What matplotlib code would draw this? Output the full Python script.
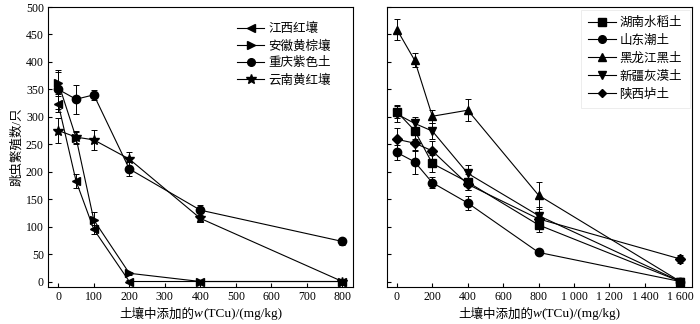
import matplotlib
matplotlib.use('Agg')
import matplotlib.pyplot as plt
from matplotlib.lines import Line2D
from matplotlib.offsetbox import TextArea, HPacker, AnchoredOffsetbox

plt.rcParams['font.family'] = ['Liberation Serif', 'Noto Sans CJK SC']
plt.rcParams['axes.unicode_minus'] = False

# left panel data
x_left = [0, 50, 100, 200, 400, 800]
jiangxi = [323, 183, 95, 0, 0, 0]
jiangxi_err = [15, 13, 8, 2, 0, 0]
anhui = [362, 262, 112, 15, 0, 0]
anhui_err = [20, 12, 15, 3, 0, 0]
chongqing = [350, 332, 340, 205, 130, 73]
chongqing_err = [35, 26, 9, 12, 10, 6]
yunnan = [275, 263, 258, 223, 115, 0]
yunnan_err = [23, 10, 18, 12, 6, 0]

# right panel data
x_right = [0, 100, 200, 400, 800, 1600]
hunan = [309, 275, 215, 181, 103, 0]
hunan_err = [12, 15, 15, 15, 12, 0]
shandong = [235, 218, 180, 143, 53, 0]
shandong_err = [14, 22, 10, 12, 4, 0]
heilongjiang = [459, 403, 301, 312, 157, 0]
heilongjiang_err = [20, 13, 12, 20, 25, 0]
xinjiang = [305, 288, 274, 197, 120, 0]
xinjiang_err = [15, 12, 15, 15, 15, 0]
shaanxi = [259, 252, 238, 177, 114, 41]
shaanxi_err = [20, 15, 18, 10, 10, 7]

left_series = [('江西红壤', jiangxi, jiangxi_err, '<'),
               ('安徽黄棕壤', anhui, anhui_err, '>'),
               ('重庆紫色土', chongqing, chongqing_err, 'o'),
               ('云南黄红壤', yunnan, yunnan_err, '*')]
right_series = [('湖南水稻土', hunan, hunan_err, 's'),
                ('山东潮土', shandong, shandong_err, 'o'),
                ('黑龙江黑土', heilongjiang, heilongjiang_err, '^'),
                ('新疆灰漠土', xinjiang, xinjiang_err, 'v'),
                ('陕西垆土', shaanxi, shaanxi_err, 'D')]

fig = plt.figure(figsize=(7, 3.24), dpi=100)
ax1 = fig.add_axes([48/700, 37/324, 305/700, 280/324])
ax2 = fig.add_axes([387/700, 37/324, 305/700, 280/324])

def msize(m):
    return 7.5 if m == '*' else (5 if m == 'D' else 6)

def draw(ax, x, series):
    handles = []
    for name, y, err, m in series:
        ax.errorbar(x, y, yerr=err, color='black', marker=m, markersize=msize(m),
                    lw=0.8, elinewidth=0.7, capsize=2.5, capthick=0.7)
        handles.append(Line2D([], [], color='black', lw=0.8, marker=m,
                              markersize=msize(m) - 0.5, label=name))
    ax.set_ylim(-10, 500)
    ax.set_yticks(range(0, 501, 50))
    ax.tick_params(direction='in', length=3, width=0.8, labelsize=8.5, pad=3)
    for s in ax.spines.values():
        s.set_linewidth(0.8)
    return handles

def xlabel(ax):
    parts = [TextArea('土壤中添加的', textprops=dict(fontsize=9)),
             TextArea('w', textprops=dict(fontsize=9.5, style='italic', family='Liberation Serif')),
             TextArea('(TCu)/(mg/kg)', textprops=dict(fontsize=9.5, family='Liberation Serif'))]
    box = HPacker(children=parts, align='baseline', pad=0, sep=0)
    ab = AnchoredOffsetbox(loc='upper center', child=box, frameon=False, pad=0,
                           bbox_to_anchor=(0.5, -0.075), bbox_transform=ax.transAxes,
                           borderpad=0)
    ax.add_artist(ab)

h1 = draw(ax1, x_left, left_series)
ax1.set_xlim(-29, 830)
ax1.set_xticks(range(0, 801, 100))
ax1.set_ylabel('跳虫繁殖数/只', fontsize=9, labelpad=2)
xlabel(ax1)
ax1.legend(handles=h1, loc='upper right', bbox_to_anchor=(0.955, 0.975), frameon=False,
           fontsize=9, handlelength=2.2, handletextpad=0.3, labelspacing=0.4,
           borderaxespad=0.3)

h2 = draw(ax2, x_right, right_series)
ax2.set_xlim(-56, 1666)
ax2.set_xticks(range(0, 1601, 200))
ax2.set_xticklabels(['0', '200', '400', '600', '800', '1 000', '1 200', '1 400', '1 600'])
ax2.set_yticklabels([])
xlabel(ax2)
leg = ax2.legend(handles=h2, loc='upper right', bbox_to_anchor=(1.0, 1.0), frameon=True,
                 fontsize=9, handlelength=2.2, handletextpad=0.3, labelspacing=0.45,
                 borderaxespad=0.2, borderpad=0.6, fancybox=False)
leg.get_frame().set_edgecolor('#e0e0e0')
leg.get_frame().set_linewidth(0.5)

fig.savefig('out.png', dpi=100)
